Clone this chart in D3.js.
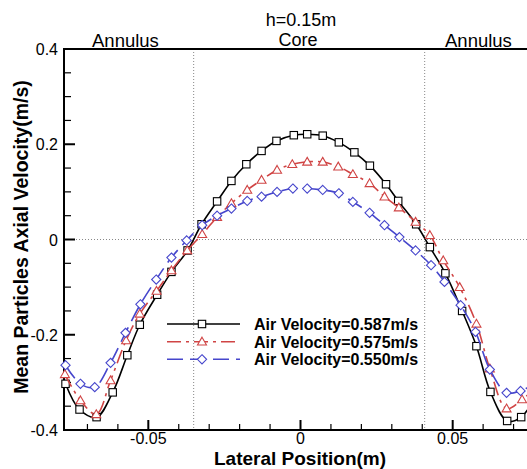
<!DOCTYPE html>
<html>
<head>
    <title>Mean Particles Axial Velocity</title>
    <script src="https://cdnjs.cloudflare.com/ajax/libs/d3/7.8.5/d3.min.js"></script>
    <style>
        body { margin: 0; background: #fff; }
        text { font-family: "Liberation Sans", Arial, sans-serif; fill: #000; }
    </style>
</head>

<body>
    <div id="chart"></div>

    <script>
        // series labels
        const seriesNames = ["Air Velocity=0.587m/s", "Air Velocity=0.575m/s", "Air Velocity=0.550m/s"]

        // lateral positions (m)
        const xBlack = [-0.0772, -0.0726, -0.067, -0.0617, -0.0569, -0.0528, -0.0471, -0.0424, -0.0371, -0.0325, -0.0274, -0.0227, -0.0178, -0.0128, -0.0079, -0.0022, 0.0022, 0.0073, 0.0126, 0.0177, 0.0228, 0.0281, 0.0321, 0.038, 0.0425, 0.0476, 0.0531, 0.0578, 0.0624, 0.0679, 0.0725, 0.0775]
        const vBlack = [-0.303, -0.357, -0.373, -0.321, -0.243, -0.179, -0.116, -0.068, -0.023, 0.032, 0.080, 0.123, 0.158, 0.186, 0.207, 0.219, 0.221, 0.218, 0.204, 0.183, 0.155, 0.116, 0.081, 0.032, -0.016, -0.071, -0.150, -0.224, -0.320, -0.381, -0.373, -0.325]

        const xRed = [-0.0774, -0.0723, -0.0671, -0.0624, -0.0573, -0.0528, -0.0473, -0.0424, -0.0372, -0.0323, -0.0274, -0.0227, -0.0175, -0.0128, -0.0077, -0.0027, 0.0022, 0.0073, 0.0124, 0.0172, 0.0227, 0.0276, 0.0323, 0.0378, 0.0425, 0.0469, 0.0523, 0.0578, 0.0622, 0.0677, 0.0728, 0.0775]
        const vRed = [-0.283, -0.338, -0.367, -0.296, -0.212, -0.156, -0.108, -0.065, -0.023, 0.011, 0.047, 0.076, 0.104, 0.125, 0.146, 0.158, 0.163, 0.163, 0.153, 0.137, 0.118, 0.090, 0.067, 0.037, 0.009, -0.044, -0.100, -0.177, -0.271, -0.355, -0.336, -0.31]

        const xBlue = [-0.0772, -0.0723, -0.0676, -0.0624, -0.0575, -0.0526, -0.0474, -0.0424, -0.0374, -0.0323, -0.0274, -0.0227, -0.0175, -0.0128, -0.0077, -0.0025, 0.0022, 0.0073, 0.0126, 0.0172, 0.0227, 0.0276, 0.0325, 0.0378, 0.0429, 0.0473, 0.0526, 0.0575, 0.0622, 0.0677, 0.0723, 0.0775]
        const vBlue = [-0.264, -0.303, -0.310, -0.259, -0.196, -0.136, -0.084, -0.038, -0.002, 0.030, 0.050, 0.065, 0.081, 0.090, 0.100, 0.107, 0.107, 0.104, 0.097, 0.079, 0.056, 0.030, 0.005, -0.023, -0.054, -0.089, -0.138, -0.194, -0.273, -0.322, -0.318, -0.30]

        const xTickMajor = [-0.05, 0, 0.05]
        const xTickLabels = ["-0.05", "0", "0.05"]
        const yTickMajor = [-0.4, -0.2, 0, 0.2, 0.4]
        const yTickLabels = ["-0.4", "-0.2", "0", "0.2", "0.4"]
        const regionLines = [-0.0351, 0.0408]

        let W = 527, H = 469
        let pLeft = 64, pRight = 537, pTop = 49, pBottom = 430

        let svg = d3.select("#chart").append("svg")
            .attr("width", W).attr("height", H)

        let x = d3.scaleLinear().domain([-0.0777, 0.0777]).range([pLeft, pRight])
        let y = d3.scaleLinear().domain([-0.4, 0.4]).range([pBottom, pTop])

        let series = [
            { name: seriesNames[0], xs: xBlack, vs: vBlack, color: "#000000", dash: null, shape: "square" },
            { name: seriesNames[1], xs: xRed, vs: vRed, color: "#d04444", dash: "14,5,3,5", shape: "triangle" },
            { name: seriesNames[2], xs: xBlue, vs: vBlue, color: "#4646cc", dash: "16,7", shape: "diamond" }
        ]

        // dotted reference lines
        regionLines.forEach(function (v) {
            svg.append("line").attr("x1", x(v)).attr("x2", x(v)).attr("y1", pTop).attr("y2", pBottom)
                .attr("stroke", "#888").attr("stroke-width", 1).attr("stroke-dasharray", "1,2")
        })
        svg.append("line").attr("x1", pLeft).attr("x2", pRight).attr("y1", y(0)).attr("y2", y(0))
            .attr("stroke", "#888").attr("stroke-width", 1).attr("stroke-dasharray", "1,2")

        // ticks (inward)
        let xMinor = d3.range(-7, 8).map(d => d / 100)
        xMinor.forEach(function (t) {
            let major = xTickMajor.some(m => Math.abs(m - t) < 1e-9)
            svg.append("line").attr("x1", x(t)).attr("x2", x(t))
                .attr("y1", pBottom).attr("y2", pBottom - (major ? 10 : 6))
                .attr("stroke", "#000").attr("stroke-width", major ? 2 : 1.2)
        })
        let yMinor = d3.range(-8, 9).map(d => d * 0.05)
        yMinor.forEach(function (t) {
            let major = yTickMajor.some(m => Math.abs(m - t) < 1e-9)
            svg.append("line").attr("y1", y(t)).attr("y2", y(t))
                .attr("x1", pLeft).attr("x2", pLeft + (major ? 11 : 7))
                .attr("stroke", "#000").attr("stroke-width", major ? 2 : 1.2)
        })

        // frame
        svg.append("path")
            .attr("d", `M${pRight},${pTop}H${pLeft}V${pBottom}H${pRight}`)
            .attr("fill", "none").attr("stroke", "#000").attr("stroke-width", 2)

        // tick labels
        xTickMajor.forEach(function (t, i) {
            svg.append("text").attr("x", x(t)).attr("y", pBottom + 14)
                .attr("text-anchor", "middle").style("font-size", "16px").text(xTickLabels[i])
        })
        yTickMajor.forEach(function (t, i) {
            svg.append("text").attr("x", pLeft - 6).attr("y", y(t) + 6)
                .attr("text-anchor", "end").style("font-size", "16px").text(yTickLabels[i])
        })

        // axis titles
        svg.append("text").attr("x", 300).attr("y", 465).attr("text-anchor", "middle")
            .style("font-size", "19px").style("font-weight", "bold").text("Lateral Position(m)")
        svg.append("text").attr("transform", "translate(28,237) rotate(-90)").attr("text-anchor", "middle")
            .style("font-size", "19.5px").style("font-weight", "bold").text("Mean Particles Axial Velocity(m/s)")

        // region labels
        svg.append("text").attr("x", 301).attr("y", 26).attr("text-anchor", "middle").style("font-size", "18px").text("h=0.15m")
        svg.append("text").attr("x", 298).attr("y", 45.5).attr("text-anchor", "middle").style("font-size", "18px").text("Core")
        svg.append("text").attr("x", 92).attr("y", 47).style("font-size", "18.5px").text("Annulus")
        svg.append("text").attr("x", 445).attr("y", 47).style("font-size", "18.5px").text("Annulus")

        function marker(sel, shape, cx, cy, color) {
            if (shape === "square") {
                sel.append("rect").attr("x", cx - 3.7).attr("y", cy - 3.7).attr("width", 7.4).attr("height", 7.4)
                    .attr("fill", "#fff").attr("stroke", color).attr("stroke-width", 1.1)
            } else if (shape === "triangle") {
                sel.append("path").attr("d", `M${cx},${cy - 4.5}L${cx + 4.5},${cy + 3.3}L${cx - 4.5},${cy + 3.3}Z`)
                    .attr("fill", "#fff").attr("stroke", color).attr("stroke-width", 1.1)
            } else {
                sel.append("path").attr("d", `M${cx},${cy - 4.6}L${cx + 4.6},${cy}L${cx},${cy + 4.6}L${cx - 4.6},${cy}Z`)
                    .attr("fill", "#fff").attr("stroke", color).attr("stroke-width", 1.1)
            }
        }

        let line = d3.line().x(d => x(d[0])).y(d => y(d[1])).curve(d3.curveCatmullRom.alpha(0.5))

        series.forEach(function (s) {
            let pts = s.xs.map((v, i) => [v, s.vs[i]])
            svg.append("path").datum(pts).attr("d", line)
                .attr("fill", "none").attr("stroke", s.color).attr("stroke-width", 1.6)
                .attr("stroke-dasharray", s.dash)
            let g = svg.append("g")
            pts.forEach(p => marker(g, s.shape, x(p[0]), y(p[1]), s.color))
        })

        // legend
        let legendY = [324, 341.7, 359.3]
        series.forEach(function (s, i) {
            svg.append("line").attr("x1", 167).attr("x2", 240).attr("y1", legendY[i]).attr("y2", legendY[i])
                .attr("stroke", s.color).attr("stroke-width", 1.6).attr("stroke-dasharray", s.dash)
            marker(svg, s.shape, 202, legendY[i], s.color)
            svg.append("text").attr("x", 254).attr("y", legendY[i] + 6)
                .style("font-size", "16px").style("font-weight", "bold").text(s.name)
        })
    </script>
</body>

</html>
